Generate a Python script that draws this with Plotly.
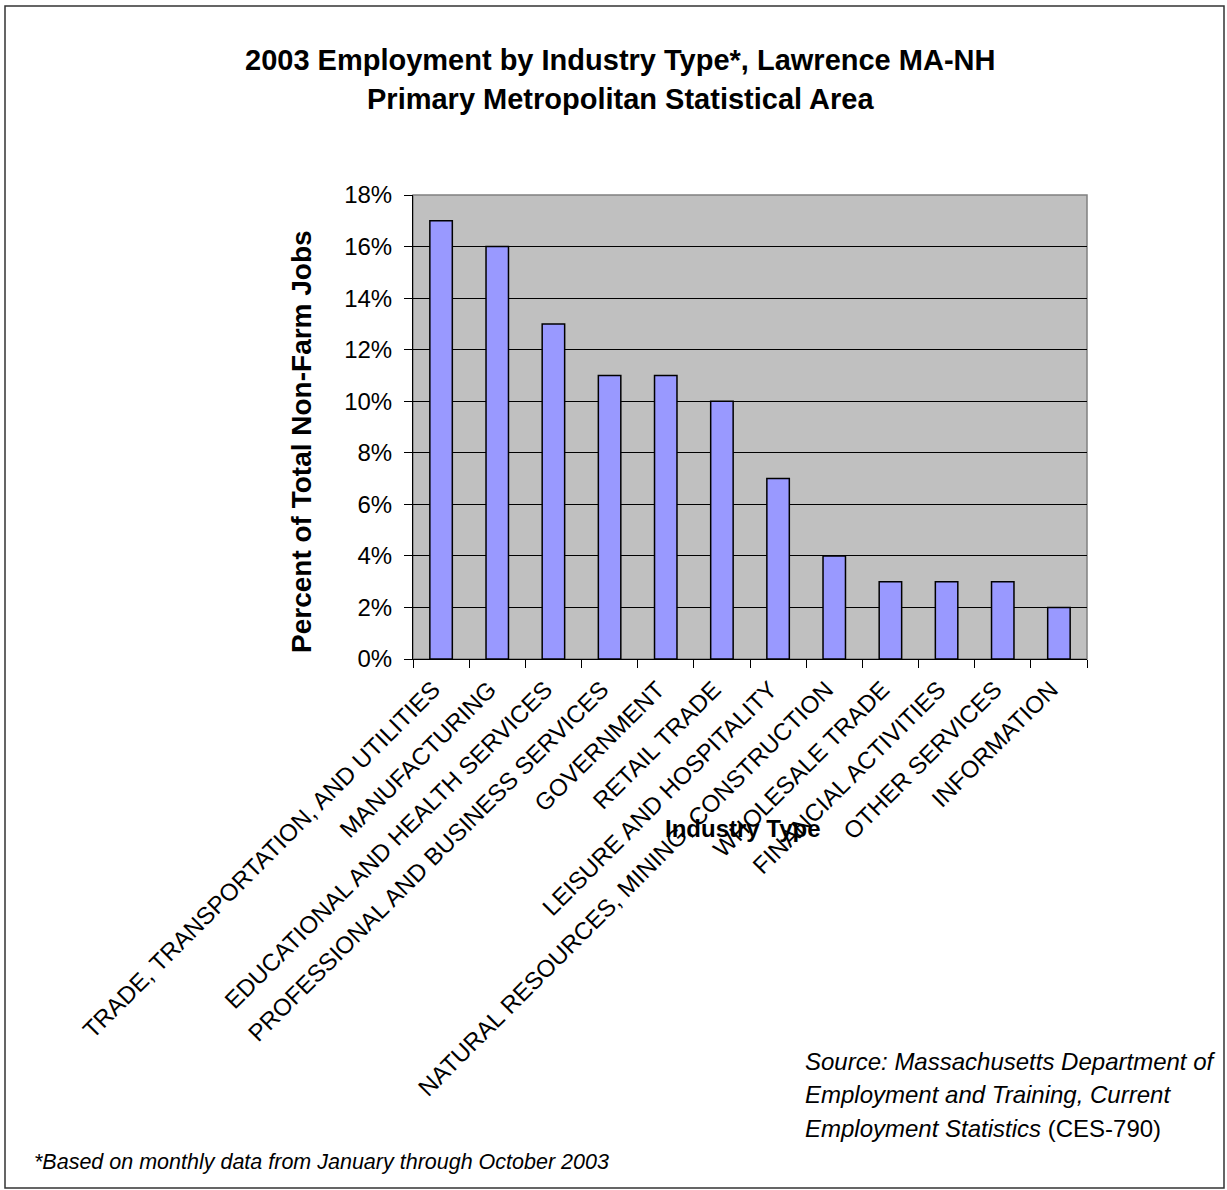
import plotly.graph_objects as go

categories = [
    "TRADE, TRANSPORTATION, AND UTILITIES",
    "MANUFACTURING",
    "EDUCATIONAL AND HEALTH SERVICES",
    "PROFESSIONAL AND BUSINESS SERVICES",
    "GOVERNMENT",
    "RETAIL TRADE",
    "LEISURE AND HOSPITALITY",
    "NATURAL RESOURCES, MINING, CONSTRUCTION",
    "WHOLESALE TRADE",
    "FINANCIAL ACTIVITIES",
    "OTHER SERVICES",
    "INFORMATION",
]
values = [0.17, 0.16, 0.13, 0.11, 0.11, 0.10, 0.07, 0.04, 0.03, 0.03, 0.03, 0.02]
y_ticks = [0, 0.02, 0.04, 0.06, 0.08, 0.10, 0.12, 0.14, 0.16, 0.18]

W, H = 1227, 1190
L, R, T, B = 413, 140, 195, 531
PW, PH = W - L - R, H - T - B
FONT = "Liberation Sans, Arial, sans-serif"


def px(x):
    return (x - L) / PW


def py(y):
    return (H - B - y) / PH


fig = go.Figure()
fig.add_trace(go.Bar(
    x=categories, y=values, width=0.4,
    marker=dict(color="#9999FF", line=dict(color="black", width=1.5)),
    hoverinfo="skip",
))

fig.update_layout(
    width=W, height=H,
    margin=dict(l=L, r=R, t=T, b=B, autoexpand=False),
    paper_bgcolor="white", plot_bgcolor="#C0C0C0",
    showlegend=False,
    font=dict(family=FONT, color="black"),
)
fig.update_xaxes(
    type="category", tickson="boundaries", ticks="outside", ticklen=8,
    tickcolor="black", tickwidth=1, showline=True, linecolor="black",
    linewidth=1, showgrid=False, tickangle=-45, ticklabelshift=-8,
    ticklabelstandoff=6,
    tickfont=dict(family=FONT, size=24, color="black"),
)
fig.update_yaxes(
    range=[0, 0.18], tickvals=y_ticks, tickformat=".0%", ticks="outside",
    ticklen=8, tickcolor="black", showline=True, linecolor="black",
    linewidth=1, showgrid=True, gridcolor="black", gridwidth=1,
    zeroline=False, ticklabelstandoff=7,
    tickfont=dict(family=FONT, size=24, color="black"),
)

shapes = [
    dict(type="rect", xref="paper", yref="paper", x0=0, x1=1, y0=0, y1=1,
         line=dict(color="#808080", width=1.5), layer="below"),
    dict(type="rect", xref="paper", yref="paper", x0=px(5), x1=px(1224),
         y0=py(1188), y1=py(6), line=dict(color="#333333", width=1.5)),
]
fig.update_layout(shapes=shapes)

ann = [
    dict(text="<b>2003 Employment by Industry Type*, Lawrence MA-NH</b>",
         x=px(620), y=py(60), font=dict(size=29)),
    dict(text="<b>Primary Metropolitan Statistical Area</b>",
         x=px(620), y=py(99), font=dict(size=29)),
    dict(text="<b>Percent of Total Non-Farm Jobs</b>", textangle=-90,
         x=px(301), y=py(442), font=dict(size=28)),
    dict(text="<b>Industry Type</b>", x=px(743), y=py(828), font=dict(size=24)),
    dict(text="<i>Source: Massachusetts Department of</i>",
         x=px(803), y=py(1061), xanchor="left", font=dict(size=24)),
    dict(text="<i>Employment and Training, Current</i>",
         x=px(803), y=py(1094), xanchor="left", font=dict(size=24)),
    dict(text="<i>Employment Statistics</i> (CES-790)",
         x=px(803), y=py(1128), xanchor="left", font=dict(size=24)),
    dict(text="<i>*Based on monthly data from January through October 2003</i>",
         x=px(32), y=py(1162), xanchor="left", font=dict(size=21.5)),
]
for a in ann:
    a.setdefault("xanchor", "center")
    a.setdefault("yanchor", "middle")
    a.update(xref="paper", yref="paper", showarrow=False)
    a["font"] = dict(family=FONT, color="black", **a["font"])
fig.update_layout(annotations=ann)

fig.write_html("out.html", config={"displayModeBar": False},
               post_script="document.body.style.margin='0';")
